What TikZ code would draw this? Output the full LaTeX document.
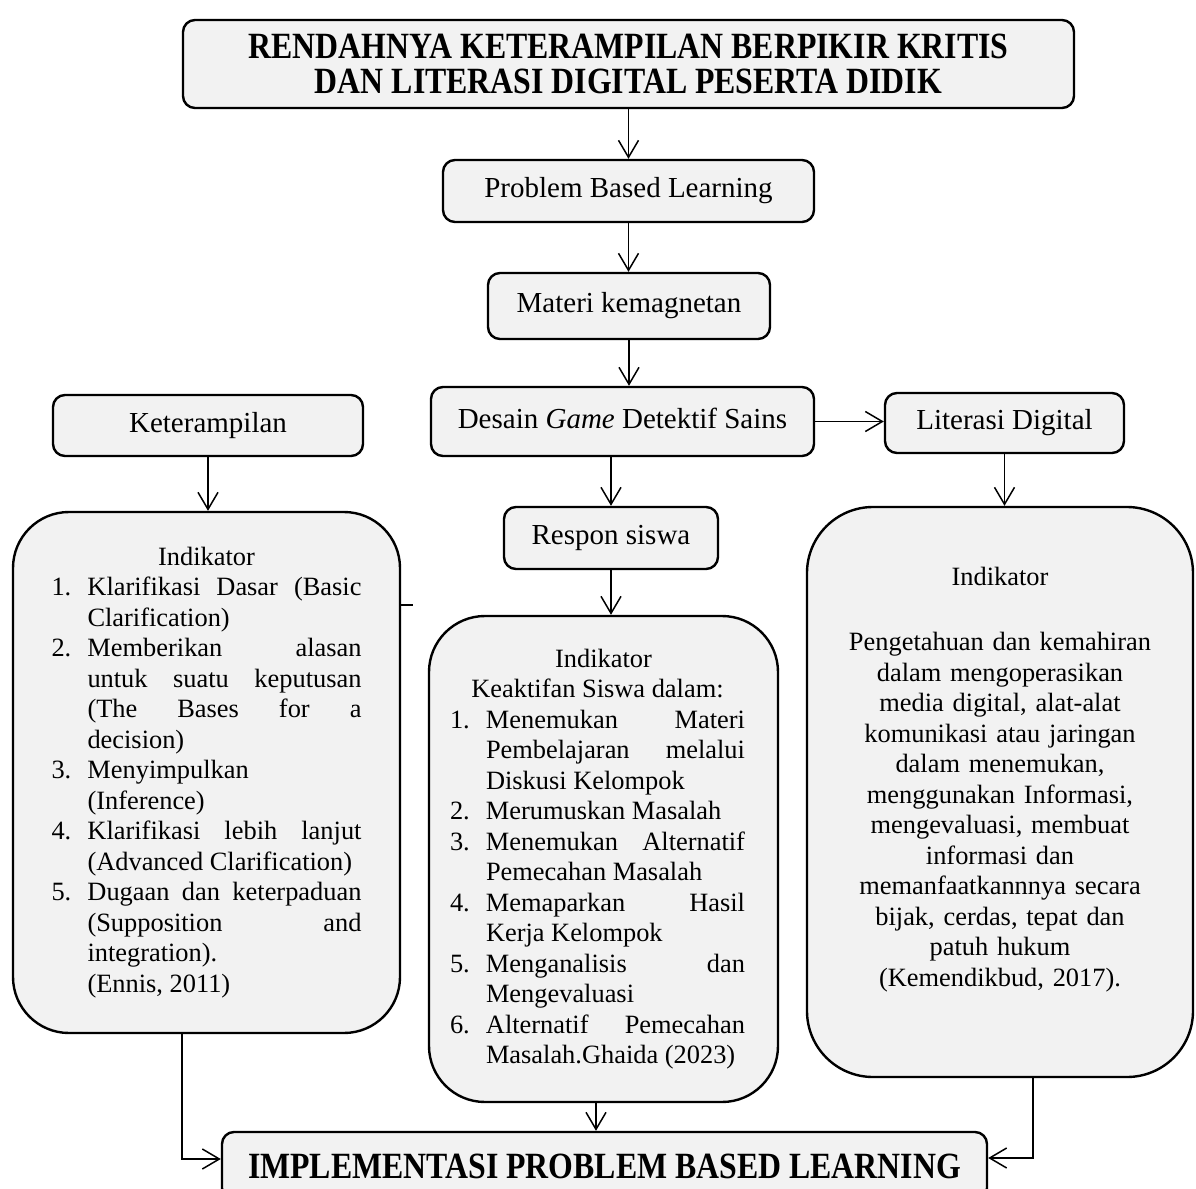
\documentclass[tikz,border=0pt]{standalone}
\usepackage{fontspec}
\setmainfont{Liberation Serif}
\newfontfamily\judulfont[FakeStretch=0.86]{Liberation Serif}
\usetikzlibrary{arrows.meta}

\definecolor{abu}{HTML}{F2F2F2}
\newcommand{\butir}[2]{\par\noindent\hangindent=18pt\hangafter=1\makebox[18pt][l]{#1.}#2}

\tikzset{
    kotak/.style={draw,line width=1.2pt,rounded corners=6pt,fill=abu,inner sep=2pt},
    label/.style={kotak,font=\fontsize{14.5}{17}\selectfont,text height=10pt,text depth=3.5pt},
    judulbox/.style={kotak,align=center,font=\judulfont\bfseries\fontsize{18.5}{17.5}\selectfont},
    indbox/.style={draw,line width=1.2pt,fill=abu,inner sep=0pt,
        font=\fontsize{13.2}{15.25}\selectfont,
        execute at begin node={\tolerance=10000\hyphenpenalty=10000}},
    panah/.style={line width=0.75pt,-{Straight Barb[length=8.5pt,width=10pt]}},
    garis/.style={line width=0.75pt}
}

\begin{document}
\begin{tikzpicture}[x=0.5pt,y=-0.5pt]
    \useasboundingbox (0,0) rectangle (1196,1189);

    \node[judulbox,minimum width=445.5pt,minimum height=44pt] (judul) at (628.5,64)
        {RENDAHNYA KETERAMPILAN BERPIKIR KRITIS\\DAN LITERASI DIGITAL PESERTA DIDIK};
    \node[label,minimum width=185.5pt,minimum height=31pt] (pbl) at (628.5,191) {Problem Based Learning};
    \node[label,minimum width=141pt,minimum height=33pt] (materi) at (629,306) {Materi kemagnetan};
    \node[label,minimum width=191.5pt,minimum height=34.5pt] (desain) at (622.5,421.5)
        {Desain \textit{Game} Detektif Sains};
    \node[label,minimum width=119.5pt,minimum height=30pt] (literasi) at (1004.5,423) {Literasi Digital};
    \node[label,minimum width=155pt,minimum height=30.5pt] (ketr) at (208,425.5) {Keterampilan};
    \node[label,minimum width=107pt,minimum height=31pt] (respon) at (611,538) {Respon siswa};

    \node[indbox,rounded corners=28pt,align=justify,text width=155pt,minimum width=193.5pt,minimum height=260.5pt]
        (indkiri) at (206.5,772.5) {%
        {\centering Indikator\par}
        \butir{1}{Klarifikasi Dasar (Basic \linebreak Clarification)}
        \butir{2}{Memberikan alasan \linebreak untuk suatu keputusan \linebreak (The Bases for a \linebreak decision)}
        \butir{3}{Menyimpulkan\newline (Inference)}
        \butir{4}{Klarifikasi lebih lanjut \linebreak (Advanced Clarification)}
        \butir{5}{Dugaan dan keterpaduan \linebreak (Supposition and \linebreak integration).\newline (Ennis, 2011)}\par};

    \node[indbox,rounded corners=28pt,align=justify,text width=153.5pt,minimum width=174.5pt,minimum height=243pt]
        (indtengah) at (603.5,859) {%
        {\centering Indikator\par}
        {\leftskip=0pt plus 1fil\rightskip=6pt plus 1fil\parfillskip=0pt\noindent Keaktifan Siswa dalam:\par}
        \rightskip=6pt
        \butir{1}{Menemukan Materi \linebreak Pembelajaran melalui \linebreak Diskusi Kelompok}
        \butir{2}{Merumuskan Masalah}
        \butir{3}{Menemukan Alternatif \linebreak Pemecahan Masalah}
        \butir{4}{Memaparkan Hasil \linebreak Kerja Kelompok}
        \butir{5}{Menganalisis dan \linebreak Mengevaluasi}
        \butir{6}{Alternatif Pemecahan \linebreak Masalah.Ghaida (2023)}\par};

    \node[indbox,rounded corners=33pt,align=center,text width=170pt,minimum width=193pt,minimum height=285pt]
        (indkanan) at (1000,792) {Indikator\\[17.25pt]
        Pengetahuan dan kemahiran\\ dalam mengoperasikan\\ media digital, alat-alat\\
        komunikasi atau jaringan\\ dalam menemukan,\\ menggunakan Informasi,\\
        mengevaluasi, membuat\\ informasi dan\\ memanfaatkannnya secara\\
        bijak, cerdas, tepat dan\\ patuh hukum\\ (Kemendikbud, 2017).\\ \mbox{}};

    \node[judulbox,minimum width=382.5pt,minimum height=34pt] (impl) at (604.5,1166)
        {IMPLEMENTASI PROBLEM BASED LEARNING};

    \draw[panah] (judul.south) -- (pbl.north);
    \draw[panah] (pbl.south) -- (pbl.south |- materi.north);
    \draw[panah] (materi.south) -- (materi.south |- desain.north);
    \draw[panah] (desain.east) -- (desain.east -| literasi.west);
    \draw[panah] (desain.south -| respon.north) -- (respon.north);
    \draw[panah] (ketr.south) -- (ketr.south |- indkiri.north);
    \draw[panah] (literasi.south) -- (literasi.south |- indkanan.north);
    \draw[panah] (respon.south) -- (respon.south |- indtengah.north);
    \draw[panah] ([xshift=-3.75pt]indtengah.south) -- ([xshift=-3.75pt]indtengah.south |- impl.north);
    \draw[panah] ([xshift=-12.25pt]indkiri.south) |- ([yshift=3.5pt]impl.west);
    \draw[panah] ([xshift=16.5pt]indkanan.south) |- ([yshift=4pt]impl.east);

    \coordinate (sisa) at (413,605);
    \draw[garis] (indkiri.east |- sisa) -- (sisa);
\end{tikzpicture}
\end{document}
